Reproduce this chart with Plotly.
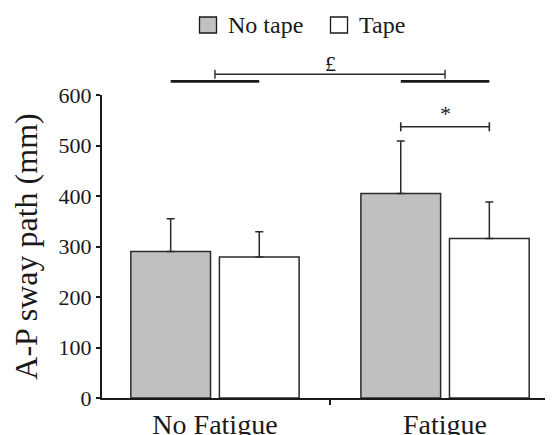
import plotly.graph_objects as go

categories = ["No Fatigue", "Fatigue"]
series_names = ["No tape", "Tape"]
no_tape = [290, 405]
no_tape_err = [65, 104]
tape = [279, 316]
tape_err = [50, 72]
y_ticks = [0, 100, 200, 300, 400, 500, 600]

FONT = "Liberation Serif"
INK = "#1a1a1a"
EDGE = "#2b2b2b"

# the page body adds an 8px offset; positions below are in figure pixels
W, H = 553, 435
ML, MR, MT, MB = 94, 0, 87, 45
X0, X1 = -0.491, 1.504
Y0, Y1 = 0, 600
BARGAP, GROUPGAP = 0.23, 0.10
off = (1 - BARGAP) / 4  # centre offset of each bar within a group


def px_(x):
    return (x - X0) / (X1 - X0)


def py_(y):
    return (y - Y0) / (Y1 - Y0)


fig = go.Figure()
fig.add_trace(go.Bar(
    x=categories, y=no_tape, name=series_names[0],
    marker=dict(color="#c0c0c0", line=dict(color=EDGE, width=1.5)),
    error_y=dict(type="data", symmetric=False, array=no_tape_err,
                 arrayminus=[0] * len(no_tape), color=EDGE, thickness=1.5, width=4),
))
fig.add_trace(go.Bar(
    x=categories, y=tape, name=series_names[1],
    marker=dict(color="white", line=dict(color=EDGE, width=1.5)),
    error_y=dict(type="data", symmetric=False, array=tape_err,
                 arrayminus=[0] * len(tape), color=EDGE, thickness=1.5, width=4),
))

shapes = []
# group lines (under the £ bracket)
y_group = 627
for i in range(len(categories)):
    shapes.append(dict(type="line", xref="paper", yref="paper",
                       x0=px_(i - off), x1=px_(i + off), y0=py_(y_group), y1=py_(y_group),
                       line=dict(color=INK, width=2.6)))
# £ bracket between the two conditions
y_pound, tick_h = 641, 9
shapes.append(dict(type="line", xref="paper", yref="paper",
                   x0=px_(0), x1=px_(1), y0=py_(y_pound), y1=py_(y_pound),
                   line=dict(color=EDGE, width=1.4)))
for xv in (0, 1):
    shapes.append(dict(type="line", xref="paper", yref="paper",
                       x0=px_(xv), x1=px_(xv), y0=py_(y_pound - tick_h), y1=py_(y_pound + tick_h),
                       line=dict(color=EDGE, width=1.4)))
# * bracket within Fatigue
y_star = 537
shapes.append(dict(type="line", xref="paper", yref="paper",
                   x0=px_(1 - off), x1=px_(1 + off), y0=py_(y_star), y1=py_(y_star),
                   line=dict(color=EDGE, width=1.6)))
for xv in (1 - off, 1 + off):
    shapes.append(dict(type="line", xref="paper", yref="paper",
                       x0=px_(xv), x1=px_(xv), y0=py_(y_star - tick_h), y1=py_(y_star + tick_h),
                       line=dict(color=EDGE, width=1.6)))

# manual legend (screen pixel layout converted to paper)
pw, ph = W - ML - MR, H - MT - MB
SHIFT = 8


def lx(p):
    return (p - SHIFT - ML) / pw


def ly(p):
    return (H - MB - (p - SHIFT)) / ph


legend_items = [(199.5, "#c0c0c0", 226), (330.5, "white", 357)]
for (sx, col, tx), name in zip(legend_items, series_names):
    shapes.append(dict(type="rect", xref="paper", yref="paper",
                       x0=lx(sx), x1=lx(sx + 17), y0=ly(33), y1=ly(17),
                       fillcolor=col, line=dict(color=INK, width=1.3)))

annotations = []
for (sx, col, tx), name in zip(legend_items, series_names):
    annotations.append(dict(xref="paper", yref="paper", x=lx(tx), y=ly(25),
                            text=name, showarrow=False, xanchor="left", yanchor="middle",
                            font=dict(family=FONT, size=24, color=INK)))
annotations.append(dict(xref="paper", yref="paper", x=px_(0.5), y=py_(y_pound - 8),
                        text="£", showarrow=False, xanchor="center", yanchor="bottom",
                        font=dict(family=FONT, size=22, color=INK)))
annotations.append(dict(xref="paper", yref="paper", x=px_(1), y=py_(y_star - 2),
                        text="*", showarrow=False, xanchor="center", yanchor="bottom",
                        font=dict(family=FONT, size=22, color=INK)))

fig.update_layout(
    width=W, height=H,
    margin=dict(l=ML, r=MR, t=MT, b=MB, pad=0, autoexpand=False),
    paper_bgcolor="white", plot_bgcolor="white",
    barmode="group", bargap=BARGAP, bargroupgap=GROUPGAP,
    showlegend=False,
    shapes=shapes, annotations=annotations,
    font=dict(family=FONT, color=INK),
    xaxis=dict(range=[X0, X1], showline=True, linecolor=INK, linewidth=2,
               ticks="outside", tickson="boundaries", ticklen=5, tickwidth=2, tickcolor=INK,
               showgrid=False, zeroline=False, automargin=False,
               tickfont=dict(family=FONT, size=28, color=INK)),
    yaxis=dict(range=[Y0, Y1], tickvals=y_ticks, showline=True, linecolor=INK, linewidth=2,
               ticks="outside", ticklen=4, tickwidth=1.5, tickcolor=INK,
               showgrid=False, zeroline=False, automargin=False,
               tickfont=dict(family=FONT, size=22, color=INK),
               title=dict(text="A-P sway path (mm)", standoff=21,
                          font=dict(family=FONT, size=32, color=INK))),
)

fig.write_html("out.html")
